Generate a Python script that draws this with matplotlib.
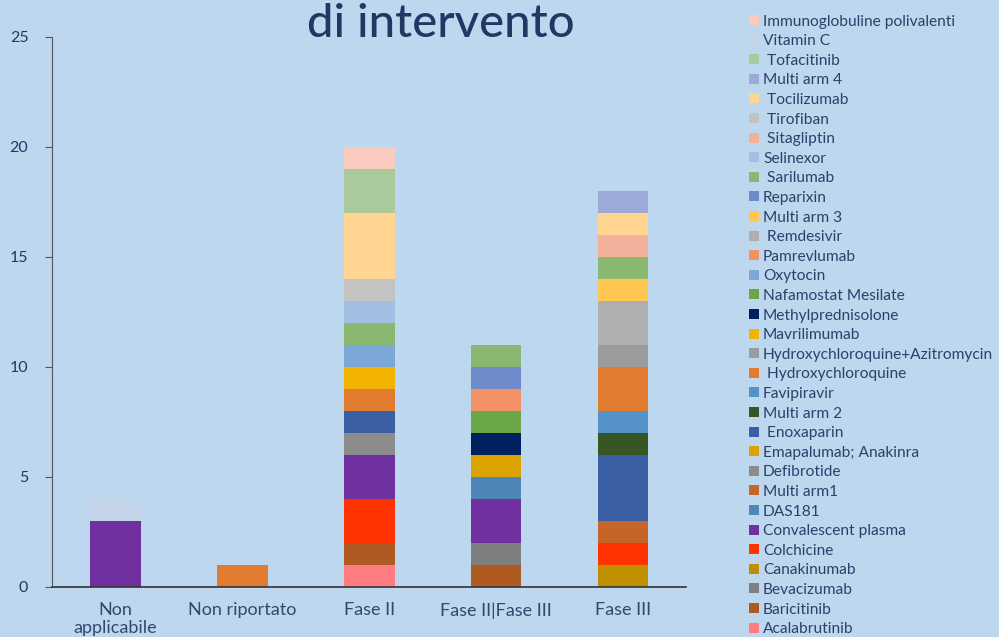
import matplotlib
matplotlib.use("Agg")
import matplotlib.pyplot as plt
import numpy as np

plt.rcParams['font.family'] = ['Lato', 'DejaVu Sans']

categories = ["Non\napplicabile", "Non riportato", "Fase II", "Fase II|Fase III", "Fase III"]

# series in stacking order (bottom to top), values per category
series = [
    ("Acalabrutinib",                   "#FF7C80", [0, 0, 1, 0, 0]),
    ("Baricitinib",                     "#AE5A21", [0, 0, 1, 1, 0]),
    ("Bevacizumab",                     "#7F7F7F", [0, 0, 0, 1, 0]),
    ("Canakinumab",                     "#BF8F00", [0, 0, 0, 0, 1]),
    ("Colchicine",                      "#FF3300", [0, 0, 2, 0, 1]),
    ("Convalescent plasma",             "#7030A0", [3, 0, 2, 2, 0]),
    ("DAS181",                          "#4E86B8", [0, 0, 0, 1, 0]),
    ("Multi arm1",                      "#C5652A", [0, 0, 0, 0, 1]),
    ("Defibrotide",                     "#8C8C8C", [0, 0, 1, 0, 0]),
    ("Emapalumab; Anakinra",            "#DBA300", [0, 0, 0, 1, 0]),
    (" Enoxaparin",                     "#3A5FA5", [0, 0, 1, 0, 3]),
    ("Multi arm 2",                     "#375623", [0, 0, 0, 0, 1]),
    ("Favipiravir",                     "#5592CA", [0, 0, 0, 0, 1]),
    (" Hydroxychloroquine",             "#E07B30", [0, 1, 1, 0, 2]),
    ("Hydroxychloroquine+Azitromycin",  "#9C9C9C", [0, 0, 0, 0, 1]),
    ("Mavrilimumab",                    "#F2B400", [0, 0, 1, 0, 0]),
    ("Methylprednisolone",              "#002060", [0, 0, 0, 1, 0]),
    ("Nafamostat Mesilate",             "#6AA746", [0, 0, 0, 1, 0]),
    ("Oxytocin",                        "#7BA7D9", [0, 0, 1, 0, 0]),
    ("Pamrevlumab",                     "#F29066", [0, 0, 0, 1, 0]),
    (" Remdesivir",                     "#AFAFAF", [0, 0, 0, 0, 2]),
    ("Multi arm 3",                     "#FFC652", [0, 0, 0, 0, 1]),
    ("Reparixin",                       "#6F8ACB", [0, 0, 0, 1, 0]),
    (" Sarilumab",                      "#8BB870", [0, 0, 1, 1, 1]),
    ("Selinexor",                       "#A2BEE2", [0, 0, 1, 0, 0]),
    (" Sitagliptin",                    "#F3B09B", [0, 0, 0, 0, 1]),
    (" Tirofiban",                      "#C3C3C3", [0, 0, 1, 0, 0]),
    (" Tocilizumab",                    "#FFD591", [0, 0, 3, 0, 1]),
    ("Multi arm 4",                     "#9DAAD7", [0, 0, 0, 0, 1]),
    (" Tofacitinib",                    "#ABCA9B", [0, 0, 2, 0, 0]),
    ("Vitamin C",                       "#C5D5E9", [1, 0, 0, 0, 0]),
    ("Immunoglobuline polivalenti",     "#F8CBBE", [0, 0, 1, 0, 0]),
]

bg = "#BDD7EE"
navy = "#203864"

fig = plt.figure(figsize=(9.99, 6.37), dpi=100, facecolor=bg)
ax = fig.add_axes([0.052, 0.0785, 0.635, 0.8635])
ax.set_facecolor(bg)

x = np.arange(len(categories))
bottom = np.zeros(len(categories))
for name, color, vals in series:
    vals = np.array(vals, dtype=float)
    ax.bar(x, vals, width=0.4, bottom=bottom, color=color, label=name, linewidth=0)
    bottom += vals

ax.set_xlim(-0.5, len(categories) - 0.5)
ax.set_ylim(0, 25)
ax.set_yticks([0, 5, 10, 15, 20, 25])
ax.set_xticks(x)
ax.set_xticklabels(categories, fontsize=13, color="#34476E", linespacing=1.1)
ax.tick_params(axis='x', length=0, pad=11)
ax.tick_params(axis='y', length=5, color="#555555", labelsize=11.5, labelcolor=navy, pad=12)
for s in ['top', 'right']:
    ax.spines[s].set_visible(False)
ax.spines['left'].set_color("#555555")
ax.spines['bottom'].set_color("#333333")
ax.spines['bottom'].set_linewidth(1.2)

fig.text(0.441, 0.996, "di intervento", ha='center', va='top', fontsize=34,
         color=navy, fontweight='medium')

handles, labels = ax.get_legend_handles_labels()
leg = fig.legend(handles[::-1], labels[::-1], loc='upper left',
                 bbox_to_anchor=(0.744, 0.987), frameon=False, fontsize=11.2,
                 labelspacing=0.36, handlelength=0.62, handleheight=0.62,
                 handletextpad=0.25, borderaxespad=0)
for t in leg.get_texts():
    t.set_color("#2F3F6B")

fig.savefig("out.png", dpi=100, facecolor=bg)
